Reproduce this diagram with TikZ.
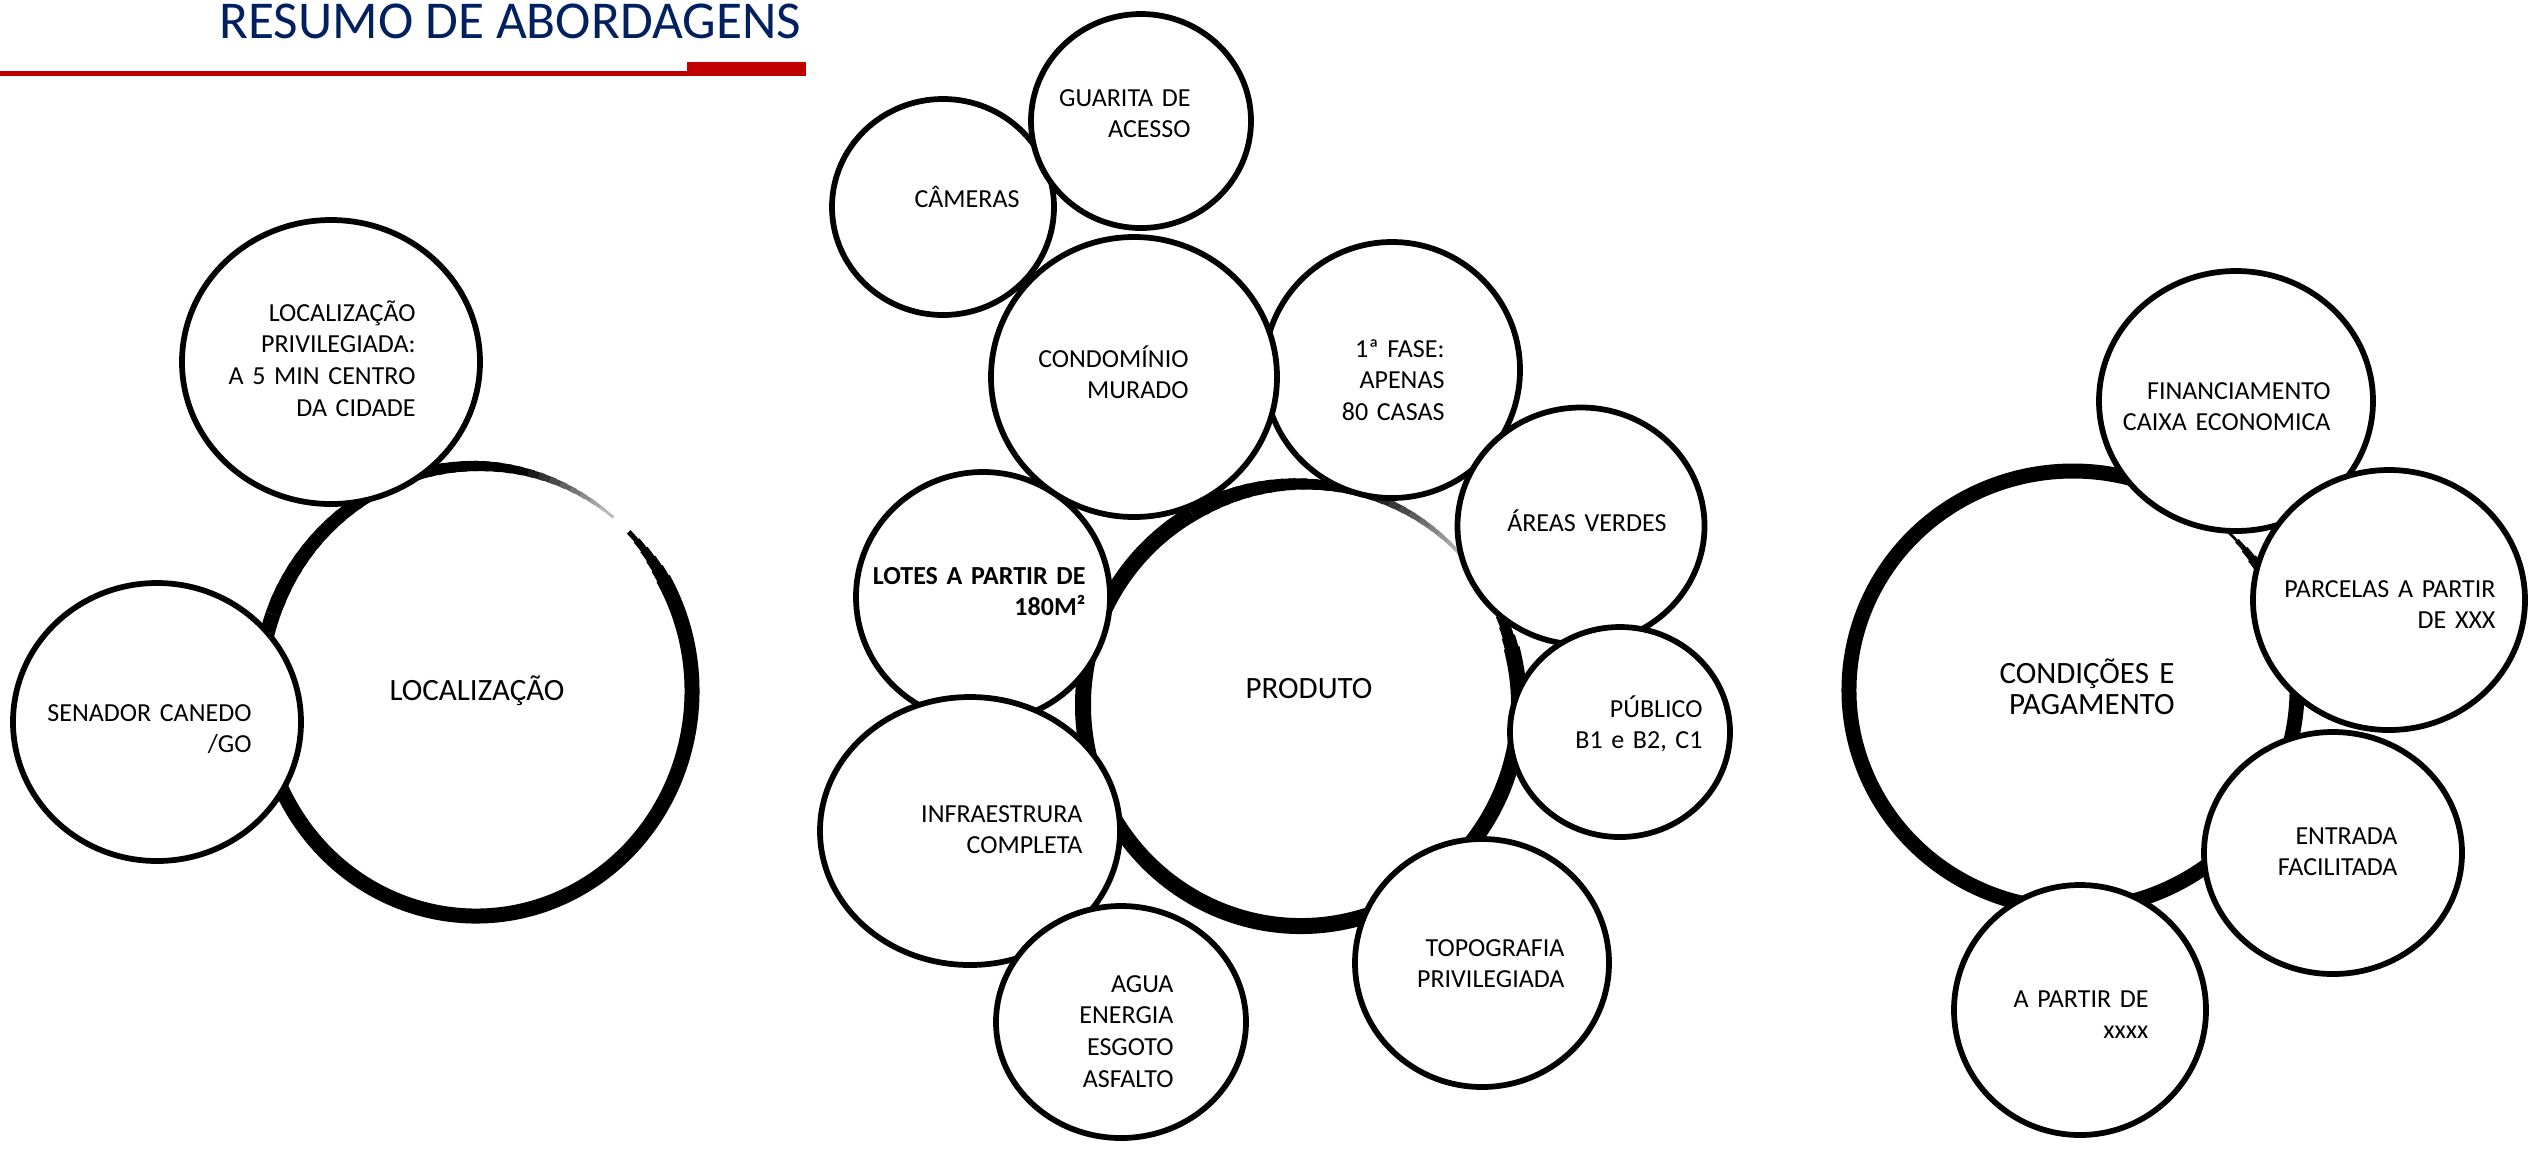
\documentclass[tikz,border=0pt]{standalone}
\usepackage{fontspec}
\setmainfont{Carlito}
\usetikzlibrary{shapes.geometric}

\definecolor{navy}{RGB}{0,32,96}
\definecolor{barred}{RGB}{192,0,0}

\tikzset{
  bubble/.style={ellipse, draw=black, fill=white, line width=2.3pt, inner sep=0pt},
  txt/.style={text width=140pt, align=right, anchor=base east, inner sep=0pt,
    font=\fontsize{10.4pt}{12.7pt}\selectfont},
  bigtxt/.style={inner sep=0pt, font=\fontsize{12.4pt}{12.6pt}\selectfont},
}

% one short piece of a brushed ring
\newcommand{\brushseg}[6]{%
  \draw[line width=#5pt, black!#6] (#1) ++(#2:#3 and #4)
    arc[start angle=#2, delta angle=4.5, x radius=#3, y radius=#4];}

\begin{document}
\begin{tikzpicture}[x=0.4pt, y=-0.4pt]
  \fill[white] (0,0) rectangle (2529,1149);
  \useasboundingbox (0,0) rectangle (2529,1149);

  % title
  \node[anchor=base west, inner sep=0pt, text=navy,
    font=\fontsize{21.3pt}{24pt}\selectfont] (title) at (219,38) {RESUMO DE ABORDAGENS};
  \fill[barred] (0,71) rectangle (806,76);
  \fill[barred] (687,62) rectangle (806,76);

  % brushed rings
  \coordinate (loc) at (476,691);
  \coordinate (prod) at (1301,705);
  \coordinate (cond) at (2073,690);

  \draw[line width=6pt] (loc) ++(330:216 and 225)
    arc[start angle=330, end angle=560, x radius=216, y radius=225];
  \foreach \a in {315,318,...,327} {
    \pgfmathsetmacro\w{2+4*(\a-315)/15}
    \brushseg{loc}{\a}{216}{225}{\w}{100}}
  \foreach \a in {200,203,...,305} {
    \pgfmathsetmacro\w{\a<270 ? 6-2*(\a-200)/70 : 4-3*(\a-270)/36}
    \pgfmathsetmacro\g{\a<280 ? 100 : 100-75*(\a-280)/26}
    \brushseg{loc}{\a}{216}{225}{\w}{\g}}

  \draw[line width=6.4pt] (prod) ++(345:218 and 221)
    arc[start angle=345, end angle=600, x radius=218, y radius=221];
  \foreach \a in {330,333,...,342} {
    \pgfmathsetmacro\w{2+4.4*(\a-330)/15}
    \brushseg{prod}{\a}{218}{221}{\w}{100}}
  \foreach \a in {240,243,...,315} {
    \pgfmathsetmacro\w{\a<280 ? 6.4-2.8*(\a-240)/40 : 3.6-2.6*(\a-280)/38}
    \pgfmathsetmacro\g{\a<285 ? 100 : 100-80*(\a-285)/33}
    \brushseg{prod}{\a}{218}{221}{\w}{\g}}

  \draw[line width=6pt] (cond) ++(330:224 and 219)
    arc[start angle=330, end angle=650, x radius=224, y radius=219];
  \foreach \a in {314,317,...,328} {
    \pgfmathsetmacro\w{1+5*(\a-314)/16}
    \brushseg{cond}{\a}{224}{219}{\w}{100}}

  % localizacao
  \node[bubble, minimum width=119.2pt, minimum height=113.6pt] (locpriv) at (331,362) {};
  \node[bubble, minimum width=115.2pt, minimum height=111.2pt] (senador) at (157,722) {};

  % produto
  \node[bubble, minimum width=88.8pt, minimum height=86.4pt] (cameras) at (943,207) {};
  \node[bubble, minimum width=88pt, minimum height=85.6pt] (guarita) at (1141,121) {};
  \node[bubble, minimum width=102.4pt, minimum height=102.4pt] (fase) at (1392,370) {};
  \node[bubble, minimum width=101.6pt, minimum height=100pt] (lotes) at (983,597) {};
  \node[bubble, minimum width=114.4pt, minimum height=112pt] (condominio) at (1134,377) {};
  \node[bubble, minimum width=120pt, minimum height=107.2pt] (infra) at (970,831) {};
  \node[bubble, minimum width=100pt, minimum height=92.8pt] (agua) at (1121,1022) {};
  \node[bubble, minimum width=98.8pt, minimum height=94.8pt] (areas) at (1581,526) {};
  \node[bubble, minimum width=88pt, minimum height=84pt] (publico) at (1620,732) {};
  \node[bubble, minimum width=101.6pt, minimum height=99.2pt] (topografia) at (1482,963) {};

  % condicoes e pagamento
  \node[bubble, minimum width=109.6pt, minimum height=104pt] (financ) at (2236,401) {};
  \node[bubble, minimum width=108.8pt, minimum height=104pt] (parcelas) at (2389,600) {};
  \node[bubble, minimum width=103.2pt, minimum height=96.8pt] (entrada) at (2333,853) {};
  \node[bubble, minimum width=100.8pt, minimum height=100pt] (apartir) at (2080,1010) {};

  % texts
  \node[bigtxt, anchor=base] (loctext) at (477,700) {LOCALIZAÇÃO};
  \node[txt] (locprivtext) at (416,321) {LOCALIZAÇÃO\\PRIVILEGIADA:\\A 5 MIN CENTRO\\DA CIDADE};
  \node[txt] (senadortext) at (252,721) {SENADOR CANEDO\\/GO};

  \node[bigtxt, anchor=base] (prodtext) at (1309,698) {PRODUTO};
  \node[txt] (guaritatext) at (1191,106) {GUARITA DE\\ACESSO};
  \node[txt] (camerastext) at (1020,207) {CÂMERAS};
  \node[txt] (condominiotext) at (1189,367) {CONDOMÍNIO\\MURADO};
  \node[txt] (fasetext) at (1445,357) {1ª FASE:\\APENAS\\80 CASAS};
  \node[txt] (areastext) at (1667,531) {ÁREAS VERDES};
  \node[txt] (publicotext) at (1703,717) {PÚBLICO\\B1 e B2, C1};
  \node[txt, font=\fontsize{10.4pt}{12.7pt}\selectfont\bfseries] (lotestext) at (1086,584) {LOTES A PARTIR DE\\180M²};
  \node[txt] (infratext) at (1083,822) {INFRAESTRURA\\COMPLETA};
  \node[txt] (aguatext) at (1174,992) {AGUA\\ENERGIA\\ESGOTO\\ASFALTO};
  \node[txt] (topografiatext) at (1565,956) {TOPOGRAFIA\\PRIVILEGIADA};

  \node[bigtxt, text width=140pt, align=right, anchor=base east] (condtext) at (2175,683) {CONDIÇÕES E\\PAGAMENTO};
  \node[txt] (financtext) at (2331,399) {FINANCIAMENTO\\CAIXA ECONOMICA};
  \node[txt] (parcelastext) at (2496,597) {PARCELAS A PARTIR\\DE XXX};
  \node[txt] (entradatext) at (2398,844) {ENTRADA\\FACILITADA};
  \node[txt] (apartirtext) at (2149,1007) {A PARTIR DE\\xxxx};
\end{tikzpicture}
\end{document}
